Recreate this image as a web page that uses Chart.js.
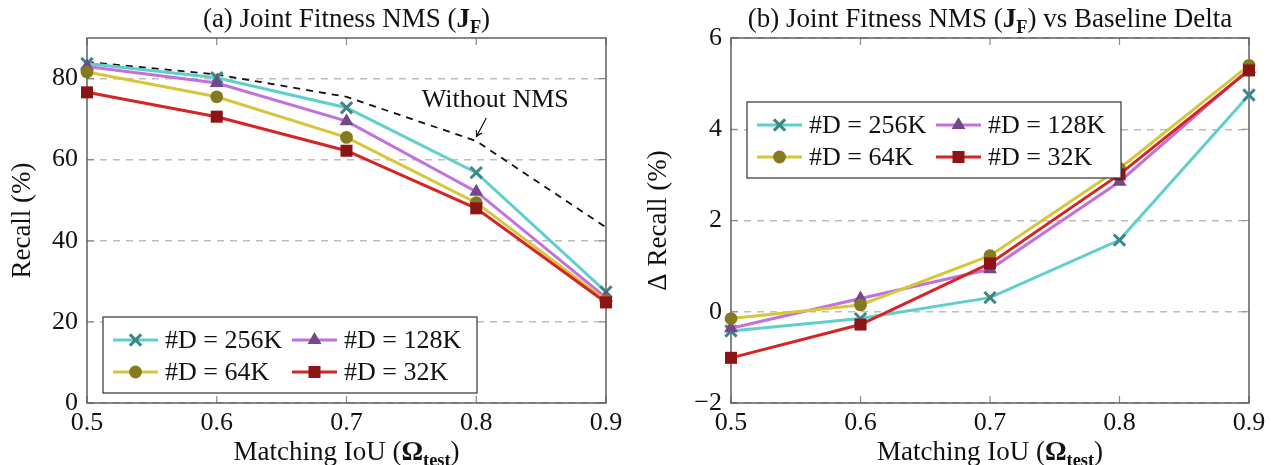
<!DOCTYPE html>
<html>
<head>
<meta charset="utf-8">
<script src="https://cdn.jsdelivr.net/npm/chart.js@4.4.0/dist/chart.umd.min.js"></script>
<style>
  body { margin: 0; background: #fff; }
  #wrap { position: relative; width: 1271px; height: 465px; overflow: hidden; }
  canvas { position: absolute; top: 0; }
</style>
</head>
<body>
<div id="wrap">
  <canvas id="left" width="640" height="465" style="left:0"></canvas>
  <canvas id="right" width="631" height="465" style="left:640px"></canvas>
</div>
<script>
// matching IoU thresholds
const iou = [0.5, 0.6, 0.7, 0.8, 0.9]
const seriesNames = ['#D = 256K', '#D = 128K', '#D = 64K', '#D = 32K']

// (a) recall in %
const recall256 = [83.7, 80.2, 72.8, 56.8, 27.4]
const recall128 = [83.0, 78.9, 69.5, 52.1, 26.0]
const recall64 = [81.6, 75.5, 65.5, 49.4, 25.3]
const recall32 = [76.6, 70.6, 62.2, 48.0, 24.8]
const recallNoNms = [84.1, 81.0, 75.5, 64.6, 43.3]

// (b) delta recall vs baseline in %
const delta256 = [-0.42, -0.15, 0.31, 1.57, 4.75]
const delta128 = [-0.36, 0.29, 0.93, 2.85, 5.32]
const delta64 = [-0.15, 0.15, 1.23, 3.14, 5.40]
const delta32 = [-1.01, -0.28, 1.06, 3.01, 5.29]

const recallTicks = [0, 20, 40, 60, 80]
const deltaTicks = [-2, 0, 2, 4, 6]

const FONT = "'Liberation Serif', 'DejaVu Serif', serif"
const TICK_SIZE = 26
const TITLE_SIZE = 27

var styles = [
  { line: '#5fcfcc', mark: '#3e8686', shape: 'crossRot', r: 8 },
  { line: '#c170dc', mark: '#74468a', shape: 'triangle', r: 8 },
  { line: '#d6c63a', mark: '#857a20', shape: 'circle', r: 6.4 },
  { line: '#d42424', mark: '#8c1414', shape: 'rect', r: 8.5 },
]

function pts(ys) {
  return iou.map((x, i) => ({ x: x, y: ys[i] }))
}

// text with bold / subscript pieces
function richText(ctx, parts, x, y, size) {
  var w = 0
  parts.forEach(p => {
    ctx.font = (p.b ? 'bold ' : '') + (p.sub ? size * 0.68 : size) + 'px ' + FONT
    p.w = ctx.measureText(p.t).width
    w += p.w
  })
  var cx = x - w / 2
  ctx.textAlign = 'left'
  ctx.textBaseline = 'alphabetic'
  parts.forEach(p => {
    ctx.font = (p.b ? 'bold ' : '') + (p.sub ? size * 0.68 : size) + 'px ' + FONT
    ctx.fillText(p.t, cx, p.sub ? y + size * 0.22 : y)
    cx += p.w
  })
}

function drawMarker(ctx, s, x, y) {
  ctx.save()
  ctx.fillStyle = s.mark
  ctx.strokeStyle = s.mark
  ctx.lineWidth = 3
  ctx.beginPath()
  if (s.shape === 'crossRot') {
    var o = s.r * Math.SQRT1_2
    ctx.moveTo(x - o, y - o); ctx.lineTo(x + o, y + o)
    ctx.moveTo(x + o, y - o); ctx.lineTo(x - o, y + o)
    ctx.stroke()
  } else if (s.shape === 'triangle') {
    ctx.moveTo(x, y - s.r)
    ctx.lineTo(x + s.r * 0.866, y + s.r * 0.5)
    ctx.lineTo(x - s.r * 0.866, y + s.r * 0.5)
    ctx.closePath(); ctx.fill()
  } else if (s.shape === 'circle') {
    ctx.arc(x, y, s.r, 0, Math.PI * 2); ctx.fill()
  } else {
    var h = s.r * Math.SQRT1_2
    ctx.rect(x - h, y - h, 2 * h, 2 * h); ctx.fill()
  }
  ctx.restore()
}

function framePlugin(yTicks) {
  return {
    id: 'frame',
    beforeDatasetsDraw(chart) {
      const { ctx, chartArea: a, scales } = chart
      ctx.save()
      ctx.strokeStyle = '#8a8a8a'
      ctx.lineWidth = 1.2
      ctx.beginPath()
      iou.forEach(v => {
        var px = scales.x.getPixelForValue(v)
        ctx.moveTo(px, a.bottom); ctx.lineTo(px, a.bottom - 7)
        ctx.moveTo(px, a.top); ctx.lineTo(px, a.top + 7)
      })
      yTicks.forEach(v => {
        var py = scales.y.getPixelForValue(v)
        ctx.moveTo(a.left, py); ctx.lineTo(a.left + 7, py)
        ctx.moveTo(a.right, py); ctx.lineTo(a.right - 7, py)
      })
      ctx.stroke()
      ctx.strokeStyle = '#555'
      ctx.lineWidth = 1.4
      ctx.strokeRect(a.left, a.top, a.right - a.left, a.bottom - a.top)
      ctx.restore()
    },
  }
}

function textPlugin(cfg) {
  return {
    id: 'texts',
    afterDraw(chart) {
      const { ctx, chartArea: a, scales } = chart
      var cx = (a.left + a.right) / 2
      ctx.save()
      ctx.fillStyle = '#111'
      richText(ctx, cfg.title, cx, 27, TITLE_SIZE)
      richText(ctx, [{ t: 'Matching IoU (' }, { t: 'Ω', b: true }, { t: 'test', b: true, sub: true }, { t: ')' }], cx, 460, TITLE_SIZE)
      ctx.save()
      ctx.translate(cfg.yTitleX, (a.top + a.bottom) / 2)
      ctx.rotate(-Math.PI / 2)
      richText(ctx, [{ t: cfg.yTitle }], 0, TITLE_SIZE * 0.34, TITLE_SIZE)
      ctx.restore()

      // legend
      var L = a.left + cfg.legendDx, T = a.top + cfg.legendDy
      ctx.fillStyle = '#fff'
      ctx.fillRect(L, T, 374, 76)
      ctx.strokeStyle = '#333'
      ctx.lineWidth = 1.2
      ctx.strokeRect(L, T, 374, 76)
      seriesNames.forEach((name, i) => {
        var col = i % 2, row = Math.floor(i / 2)
        var x0 = L + 10 + col * 179, y0 = T + 23 + row * 32
        ctx.strokeStyle = styles[i].line
        ctx.lineWidth = 3
        ctx.beginPath(); ctx.moveTo(x0, y0); ctx.lineTo(x0 + 45, y0); ctx.stroke()
        drawMarker(ctx, styles[i], x0 + 22.5, y0)
        ctx.fillStyle = '#111'
        ctx.font = TICK_SIZE + 'px ' + FONT
        ctx.textAlign = 'left'
        ctx.textBaseline = 'middle'
        ctx.fillText(name, x0 + 52, y0 + 1)
      })

      if (cfg.note) {
        var px = scales.x.getPixelForValue(0.8)
        var py = scales.y.getPixelForValue(recallNoNms[3])
        ctx.fillStyle = '#111'
        richText(ctx, [{ t: 'Without NMS' }], px + 19, py - 34, TICK_SIZE)
        var tx = px, ty = py - 4, sx = px + 10, sy = py - 23
        ctx.strokeStyle = '#111'
        ctx.lineWidth = 1.2
        ctx.beginPath(); ctx.moveTo(sx, sy); ctx.lineTo(tx, ty); ctx.stroke()
        var ang = Math.atan2(ty - sy, tx - sx)
        ctx.beginPath()
        ctx.moveTo(tx - 7 * Math.cos(ang - 0.5), ty - 7 * Math.sin(ang - 0.5))
        ctx.quadraticCurveTo(tx - 2 * Math.cos(ang), ty - 2 * Math.sin(ang), tx, ty)
        ctx.quadraticCurveTo(tx - 2 * Math.cos(ang), ty - 2 * Math.sin(ang), tx - 7 * Math.cos(ang + 0.5), ty - 7 * Math.sin(ang + 0.5))
        ctx.stroke()
      }
      ctx.restore()
    },
  }
}

function makeChart(id, cfg) {
  var datasets = cfg.series.map((ys, i) => ({
    label: seriesNames[i],
    data: pts(ys),
    borderColor: styles[i].line,
    borderWidth: 3,
    pointStyle: styles[i].shape,
    pointRadius: styles[i].r,
    pointBackgroundColor: styles[i].mark,
    pointBorderColor: styles[i].mark,
    pointBorderWidth: styles[i].shape === 'crossRot' ? 3 : 0,
    order: 4 - i,
    clip: false,
  }))
  if (cfg.extra) {
    datasets.push({
      label: 'Without NMS',
      data: pts(cfg.extra),
      borderColor: '#111',
      borderWidth: 1.8,
      borderDash: [7, 6],
      pointRadius: 0,
      order: 10,
      clip: false,
    })
  }
  return new Chart(document.getElementById(id), {
    type: 'line',
    data: { datasets: datasets },
    plugins: [framePlugin(cfg.yTicks), textPlugin(cfg)],
    options: {
      responsive: false,
      animation: false,
      devicePixelRatio: 1,
      layout: { padding: { left: 0, right: cfg.rightPad, top: 38, bottom: 0 } },
      plugins: { legend: { display: false }, title: { display: false }, tooltip: { enabled: false } },
      elements: { line: { tension: 0 } },
      scales: {
        x: {
          type: 'linear',
          min: 0.5,
          max: 0.9,
          afterBuildTicks: s => { s.ticks = iou.map(v => ({ value: v })) },
          afterFit: s => { s.height = 62 },
          ticks: {
            callback: v => v.toFixed(1),
            font: { family: FONT, size: TICK_SIZE },
            color: '#111',
            padding: -3,
            maxRotation: 0,
          },
          grid: { display: false },
          border: { display: false },
        },
        y: {
          min: cfg.yMin,
          max: cfg.yMax,
          afterBuildTicks: s => { s.ticks = cfg.yTicks.map(v => ({ value: v })) },
          afterFit: s => { s.width = cfg.leftW },
          ticks: {
            callback: v => (v < 0 ? '\u2212' + Math.abs(v) : '' + v),
            font: { family: FONT, size: TICK_SIZE },
            color: '#111',
            padding: 9,
          },
          grid: { color: '#bdbdbd', lineWidth: 1.4, borderDash: [7, 6], drawTicks: false },
          border: { display: false, dash: [7, 6] },
        },
      },
    },
  })
}

makeChart('left', {
  series: [recall256, recall128, recall64, recall32],
  extra: recallNoNms,
  yMin: 0, yMax: 90, yTicks: recallTicks,
  leftW: 87, rightPad: 34,
  yTitle: 'Recall (%)', yTitleX: 21,
  title: [{ t: '(a) Joint Fitness NMS (' }, { t: 'J', b: true }, { t: 'F', b: true, sub: true }, { t: ')' }],
  legendDx: 16, legendDy: 279,
  note: true,
})

makeChart('right', {
  series: [delta256, delta128, delta64, delta32],
  yMin: -2, yMax: 6, yTicks: deltaTicks,
  leftW: 91, rightPad: 22,
  yTitle: '\u0394 Recall (%)', yTitleX: 17,
  title: [{ t: '(b) Joint Fitness NMS (' }, { t: 'J', b: true }, { t: 'F', b: true, sub: true }, { t: ') vs Baseline Delta' }],
  legendDx: 16, legendDy: 64,
})
</script>
</body>
</html>
